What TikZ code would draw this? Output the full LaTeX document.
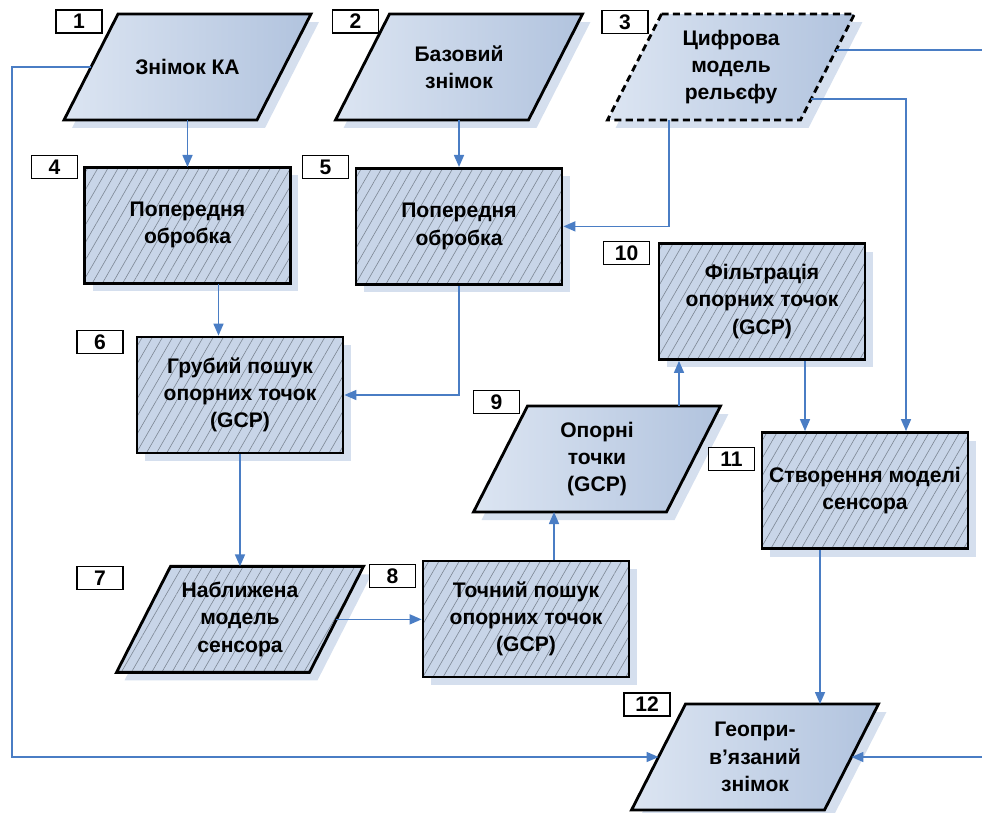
\documentclass[tikz,border=0pt]{standalone}
\usepackage{fontspec}
\setmainfont{Liberation Sans}
\usepackage{xcolor}
\usepackage{tikz}
\usetikzlibrary{arrows.meta,positioning,shadows,patterns.meta,calc,backgrounds}
\definecolor{linkblue}{HTML}{4A7DC4}
\definecolor{parlight}{HTML}{DCE5F2}
\definecolor{pardark}{HTML}{B1C3DE}
\definecolor{hatchfill}{HTML}{C8D5E8}
\definecolor{hatchgray}{HTML}{7D8794}
\definecolor{shadowblue}{HTML}{D5DFEE}
\newcommand{\drawslant}[2]{\path[#1] ([xshift=0.54cm]#2.north west) -- ([xshift=0.54cm]#2.north east) -- ([xshift=-0.54cm]#2.south east) -- ([xshift=-0.54cm]#2.south west) -- cycle;}

\begin{document}
\begin{tikzpicture}[
  x=0.02cm, y=-0.02cm,
  font=\fontsize{12}{15.5}\selectfont\bfseries,
  shadowed/.style={drop shadow={shadow xshift=0.16cm, shadow yshift=-0.16cm, fill=shadowblue, opacity=1}},
  proc/.style={shadowed, rectangle, draw=black, line width=1.6pt, preaction={fill=hatchfill}, pattern={Lines[angle=60,distance=5pt,line width=0.35pt]}, pattern color=hatchgray, minimum width=4.12cm, minimum height=2.32cm, align=center},
  ptext/.style={minimum width=3.86cm, minimum height=2.12cm, outer sep=0pt, inner sep=2pt, align=center},
  slanted/.style={shadowed, draw=black, line width=1.6pt},
  data/.style={slanted, left color=parlight, right color=pardark},
  hdata/.style={slanted, preaction={fill=hatchfill}, pattern={Lines[angle=60,distance=5pt,line width=0.35pt]}, pattern color=hatchgray},
  tag/.style={draw=black, line width=1.1pt, fill=white, minimum width=0.92cm, minimum height=0.46cm, inner sep=0pt},
  link/.style={-{Triangle[length=0.24cm,width=0.2cm]}, linkblue, line width=0.9pt}
]
\useasboundingbox (0,0) rectangle (982,812);
\clip (0,0) rectangle (982,812);
\node[ptext] (p1) at (187.5,67) {Знімок КА};
\node[ptext] (p2) at (459,67) {Базовий\\знімок};
\node[ptext] (p3) at (731,67) {Цифрова\\модель\\рельєфу};
\node[proc, below=0.94cm of p1] (r4) {Попередня\\обробка};
\node[proc, below=0.94cm of p2] (r5) {Попередня\\обробка};
\node[proc] (r6) at (240,395) {Грубий пошук\\опорних точок\\(GCP)};
\node[ptext, below=2.24cm of r6] (p7) {Наближена\\модель\\сенсора};
\node[proc] (r8) at (526,619) {Точний пошук\\опорних точок\\(GCP)};
\node[ptext] (p9) at (597,459) {Опорні\\точки\\(GCP)};
\node[proc] (r10) at (762,301.5) {Фільтрація\\опорних точок\\(GCP)};
\node[proc] (r11) at (865,490.5) {Створення моделі\\сенсора};
\node[ptext] (p12) at (755,757) {Геопри-\\в’язаний\\знімок};
\begin{scope}[on background layer]
\drawslant{data}{p1}
\drawslant{data}{p2}
\drawslant{data, dash pattern=on 4pt off 2.5pt}{p3}
\drawslant{hdata}{p7}
\drawslant{data}{p9}
\drawslant{data}{p12}
\end{scope}
\node[tag] (t1) at (79,21.5) {1};
\node[tag] (t2) at (355.5,21.5) {2};
\node[tag] (t3) at (625,22) {3};
\node[tag] (t4) at (54.5,167) {4};
\node[tag] (t5) at (325.5,167) {5};
\node[tag] (t6) at (100,342) {6};
\node[tag] (t7) at (100,578) {7};
\node[tag] (t8) at (392.5,576) {8};
\node[tag] (t9) at (496.5,402) {9};
\node[tag] (t10) at (626.5,253) {10};
\node[tag] (t11) at (731.5,459) {11};
\node[tag] (t12) at (647,704.5) {12};
\coordinate (c46) at ($(r4.south)+(31,0)$);
\coordinate (c89) at ($(r8.north)+(28,0)$);
\coordinate (c910) at ($(r10.south)+(-83,0)$);
\coordinate (c1011) at ($(r10.south)+(43,0)$);
\coordinate (c35) at ($(p3.south)+(-62,0)$);
\coordinate (c311) at ($(p3.east)+(-16.3,32)$);
\coordinate (c11in) at ($(r11.north)+(41,0)$);
\coordinate (c1112) at ($(r11.south)+(-45,0)$);
\coordinate (c312) at ($(p3.east)+(8.7,-17)$);
\coordinate (lft) at (12,0);
\coordinate (rgt) at (995,0);
\draw[link] (p1.south) -- (r4.north);
\draw[link] (p2.south) -- (r5.north);
\draw[link] (c46) -- (c46 |- r6.north);
\draw[link] (r5.south) |- (r6.east);
\draw[link] (r6.south) -- (p7.north);
\draw[link] (p7.east) -- (p7.east -| r8.west);
\draw[link] (c89) -- (c89 |- p9.south);
\draw[link] (c910 |- p9.north) -- (c910);
\draw[link] (c1011) -- (c1011 |- r11.north);
\draw[link] (c35) |- (r5.east);
\draw[link] (c311) -| (c11in);
\draw[link] (c1112) -- (c1112 |- p12.north);
\draw[link] (p1.west) -| (lft |- p12.west) -- (p12.west);
\draw[link] (c312) -| (rgt |- p12.east) -- (p12.east);
\end{tikzpicture}
\end{document}
